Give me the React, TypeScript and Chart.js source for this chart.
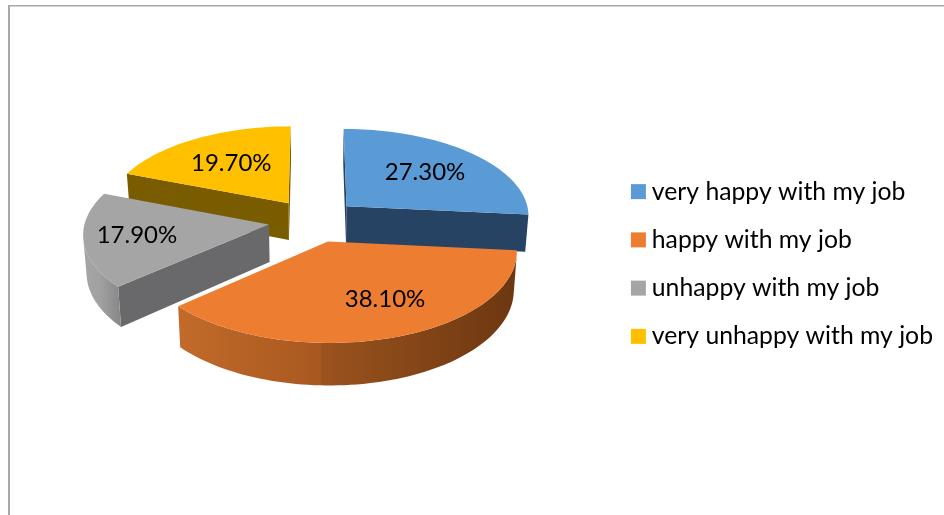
import React, { useEffect, useRef } from "react";
import { Chart, registerables } from "chart.js";

Chart.register(...registerables);

// Survey answers
const categories = [
  "very happy with my job",
  "happy with my job",
  "unhappy with my job",
  "very unhappy with my job",
];
const shares = [27.3, 38.1, 17.9, 19.7];
const topColors = ["#5b9bd5", "#ed7d31", "#a5a5a5", "#ffc000"];

// Side-wall shading: cut faces are flat, the rim fades across the screen from left to right
const cutColors = ["#264363", "#8f4c1c", "#69696b", "#7a5c00"];
const rimStops: [number, string][][] = [
  [[0, "#2f5379"], [1, "#203a56"]],
  [[0, "#c26a2a"], [0.42, "#a85820"], [0.425, "#9b531e"], [1, "#6c3710"]],
  [[0, "#a6a6a6"], [0.5, "#a0a0a0"], [1, "#8a8a8a"]],
  [[0, "#8f6c00"], [1, "#7a5c00"]],
];

// Projection of the tilted pie onto the canvas
const VIEW = { cx: 313.6, cy: 220.6, rx: 183.7, ry: 87.4, perspective: 0.096, depth: 37.5, converge: 0.985 };
const EXPLODE = 0.246;
const LABEL_REACH = [0.62, 0.656, 0.715, 0.6];
const LABEL_TURN = [0, -0.13, 0, 0];
const PAINT_ORDER = [0, 3, 2, 1];

const FONT = "Lato, Carlito, sans-serif";

type Pt = { x: number; y: number };

function top(u: number, v: number): Pt {
  const s = 1 / (1 - VIEW.perspective * v);
  return { x: VIEW.cx + VIEW.rx * u * s, y: VIEW.cy + VIEW.ry * v * s };
}

function bottom(u: number, v: number): Pt {
  const s = 1 / (1 - VIEW.perspective * v);
  return {
    x: VIEW.cx + VIEW.rx * u * s * VIEW.converge,
    y: VIEW.cy + VIEW.ry * v * s + VIEW.depth * s,
  };
}

function polyArea(p: Pt[]): number {
  let sum = 0;
  p.forEach((a, i) => {
    const b = p[(i + 1) % p.length];
    sum += a.x * b.y - b.x * a.y;
  });
  return sum / 2;
}

function fillPoly(ctx: CanvasRenderingContext2D, pts: Pt[], style: string | CanvasGradient) {
  ctx.beginPath();
  pts.forEach((p, i) => (i ? ctx.lineTo(p.x, p.y) : ctx.moveTo(p.x, p.y)));
  ctx.closePath();
  ctx.fillStyle = style;
  ctx.fill();
}

function sliceOutline(start: number, end: number) {
  const mid = (start + end) / 2;
  const ax = Math.cos(mid) * EXPLODE;
  const ay = Math.sin(mid) * EXPLODE;
  const rim: number[][] = [];
  const steps = Math.max(8, Math.ceil((end - start) / 0.03));
  for (let k = 0; k <= steps; k++) {
    const a = start + ((end - start) * k) / steps;
    rim.push([ax + Math.cos(a), ay + Math.sin(a)]);
  }
  return { apex: [ax, ay], rim };
}

const pie3d = {
  id: "pie3d",
  beforeDraw(chart: Chart) {
    const { ctx, width, height } = chart;
    ctx.save();
    ctx.fillStyle = "#ffffff";
    ctx.fillRect(0, 0, width, height);
    ctx.fillStyle = "#a8a8a8";
    ctx.fillRect(8, 5, width - 8, 1.5);
    ctx.fillRect(8, 5, 2, height - 5);
    ctx.restore();
  },
  beforeDatasetsDraw(chart: Chart) {
    const { ctx } = chart;
    const arcs = chart.getDatasetMeta(0).data as any[];
    ctx.save();
    PAINT_ORDER.forEach((i) => {
      const { startAngle, endAngle } = arcs[i].getProps(["startAngle", "endAngle"], true);
      const { apex, rim } = sliceOutline(startAngle, endAngle);

      const xs = rim.map((p) => top(p[0], p[1]).x);
      const grad = ctx.createLinearGradient(Math.min(...xs), 0, Math.max(...xs), 0);
      rimStops[i].forEach(([at, color]) => grad.addColorStop(at, color));

      const quadOf = (a: number[], b: number[]) => [
        top(a[0], a[1]),
        top(b[0], b[1]),
        bottom(b[0], b[1]),
        bottom(a[0], a[1]),
      ];

      // Flat cut faces, only those turned towards the viewer
      [[apex, rim[0]], [rim[rim.length - 1], apex]].forEach(([a, b]) => {
        const quad = quadOf(a, b);
        if (polyArea(quad) < 0) fillPoly(ctx, quad, cutColors[i]);
      });

      // The rim is filled as one shape for each unbroken visible run
      let run: number[][] = [];
      const flush = () => {
        if (run.length > 1) {
          const upper = run.map((p) => top(p[0], p[1]));
          const lower = run.map((p) => bottom(p[0], p[1])).reverse();
          fillPoly(ctx, [...upper, ...lower], grad);
        }
        run = [];
      };
      for (let k = 0; k < rim.length - 1; k++) {
        if (polyArea(quadOf(rim[k], rim[k + 1])) < 0) {
          if (!run.length) run.push(rim[k]);
          run.push(rim[k + 1]);
        } else {
          flush();
        }
      }
      flush();

      fillPoly(ctx, [apex, ...rim].map((p) => top(p[0], p[1])), topColors[i]);
    });
    ctx.restore();
    return false;
  },
  afterDraw(chart: Chart) {
    const { ctx } = chart;
    const arcs = chart.getDatasetMeta(0).data as any[];
    ctx.save();
    ctx.font = `24px ${FONT}`;
    ctx.fillStyle = "#000000";
    ctx.textAlign = "center";
    ctx.textBaseline = "middle";
    arcs.forEach((arc, i) => {
      const { startAngle, endAngle } = arc.getProps(["startAngle", "endAngle"], true);
      const mid = (startAngle + endAngle) / 2;
      const a = mid + LABEL_TURN[i];
      const u = Math.cos(mid) * EXPLODE + Math.cos(a) * LABEL_REACH[i];
      const v = Math.sin(mid) * EXPLODE + Math.sin(a) * LABEL_REACH[i];
      const p = top(u, v);
      ctx.fillText(`${shares[i].toFixed(2)}%`, p.x, p.y);
    });
    ctx.restore();
  },
};

export default function App() {
  const ref = useRef<HTMLCanvasElement>(null);
  useEffect(() => {
    const chart = new Chart(ref.current!, {
      type: "pie",
      data: {
        labels: categories,
        datasets: [{ data: shares, backgroundColor: topColors, borderWidth: 0 }],
      },
      options: {
        animation: false,
        responsive: false,
        layout: { padding: { top: 13, right: 1 } },
        plugins: {
          tooltip: { enabled: false },
          legend: {
            position: "right",
            labels: {
              usePointStyle: true,
              pointStyle: "rect",
              boxWidth: 2,
              boxHeight: 15,
              padding: 23.5,
              color: "#000000",
              font: { family: FONT, size: 24.75 },
            },
          },
        },
      },
      plugins: [pie3d as any],
    });
    return () => chart.destroy();
  }, []);
  return (
    <div style={{ position: "fixed", left: 0, top: 0, width: 944, height: 515, background: "#fff" }}>
      <canvas ref={ref} width={944} height={515} style={{ display: "block" }} />
    </div>
  );
}
